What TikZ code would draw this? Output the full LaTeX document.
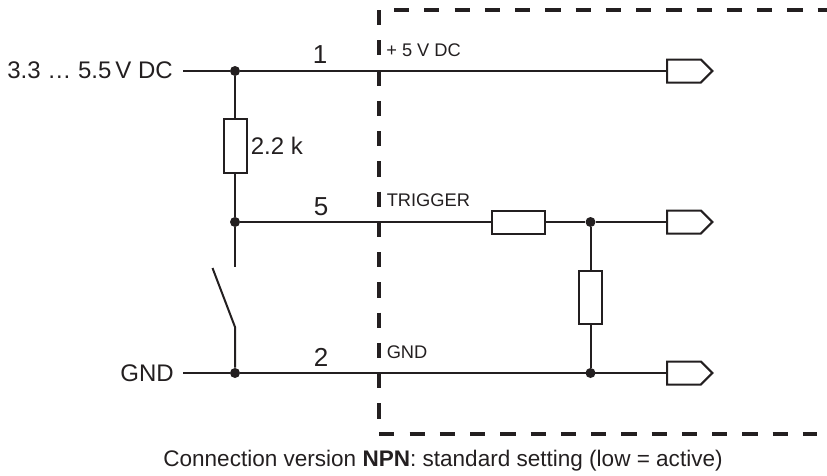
\documentclass[tikz,border=0pt]{standalone}
\usepackage{fontspec}
\setmainfont{Liberation Sans}
\usetikzlibrary{positioning,shapes.symbols}
\definecolor{ink}{HTML}{231F20}
\tikzset{
  wire/.style={draw=ink,line width=1.5pt},
  boxline/.style={draw=ink,line width=3pt,dash pattern=on 11.4pt off 11.3pt},
  res/.style={rectangle,draw=ink,line width=1.5pt,fill=white,inner sep=0pt},
  resv/.style={res,minimum width=17.25pt,minimum height=40pt},
  resh/.style={res,minimum width=40pt,minimum height=17.25pt},
  junct/.style={circle,fill=ink,inner sep=0pt,minimum size=7.5pt},
  plug/.style={signal,signal to=east,signal pointer angle=90,draw=ink,line width=1.5pt,inner sep=0pt,minimum width=34pt,minimum height=17.25pt,anchor=west},
  txt/.style={inner sep=0pt,text=ink,font=\fontsize{18}{20}\selectfont},
  pin/.style={inner sep=0pt,text=ink,font=\fontsize{19.5}{22}\selectfont,anchor=base},
  sig/.style={inner sep=0pt,text=ink,font=\fontsize{13.7}{16}\selectfont,anchor=base west}
}
\begin{document}
\begin{tikzpicture}[x=0.75pt,y=-0.75pt]
\useasboundingbox (0,0) rectangle (827,475);
%
\draw [boxline] (379,10) -- (379,433.5) -- (817,433.5);
\draw [boxline] (394,10) -- (827,10);
%
\node [junct] (j1) at (235,71) {};
\node [junct] (j5) at (235,222) {};
\node [junct] (j2) at (235,373) {};
\node [junct] (j6) at (590.5,222) {};
\node [junct] (j7) at (590.5,373) {};
\node [resv] (r1) at (235,146) {};
\node [resh] (r2) at (518.7,222) {};
\node [resv] (r3) at (590.5,297.5) {};
\node [plug] (p1) at (666,71) {};
\node [plug] (p5) at (666,222) {};
\node [plug] (p2) at (666,373) {};
\coordinate (in1) at (183,71);
\coordinate (in2) at (183,373);
\coordinate (sw0) at (235,267);
\coordinate (sw1) at (235,327);
\coordinate (sw2) at (212.5,268);
%
\draw [wire] (in1) -- (j1) -- (p1.west);
\draw [wire] (j1) -- (r1) -- (j5) -- (sw0);
\draw [wire] (j5) -- (r2) -- (j6) -- (p5.west);
\draw [wire] (j6) -- (r3) -- (j7);
\draw [wire] (in2) -- (j2) -- (p2.west);
\draw [wire] (j2) -- (sw1) -- (sw2);
%
\node [txt,anchor=base east] (vin) at (173,78.5) {3.3 … 5.5\,V DC};
\node [txt,anchor=base east] (gnd) at (174,381) {GND};
\node [txt,anchor=base west] (rval) at (250.5,154.5) {2.2 k};
\node [pin] (n1) at (320,63) {1};
\node [pin] (n5) at (321,215) {5};
\node [pin] (n2) at (321,366) {2};
\node [sig] (s1) at (386,56.5) {+ 5 V DC};
\node [sig] (s5) at (386.5,206.5) {TRIGGER};
\node [sig] (s2) at (386.5,358) {GND};
\node [txt,anchor=base,font=\fontsize{16.9}{20}\selectfont] (cap) at (443,466) {Connection version \textbf{NPN}: standard setting (low = active)};
\end{tikzpicture}
\end{document}
